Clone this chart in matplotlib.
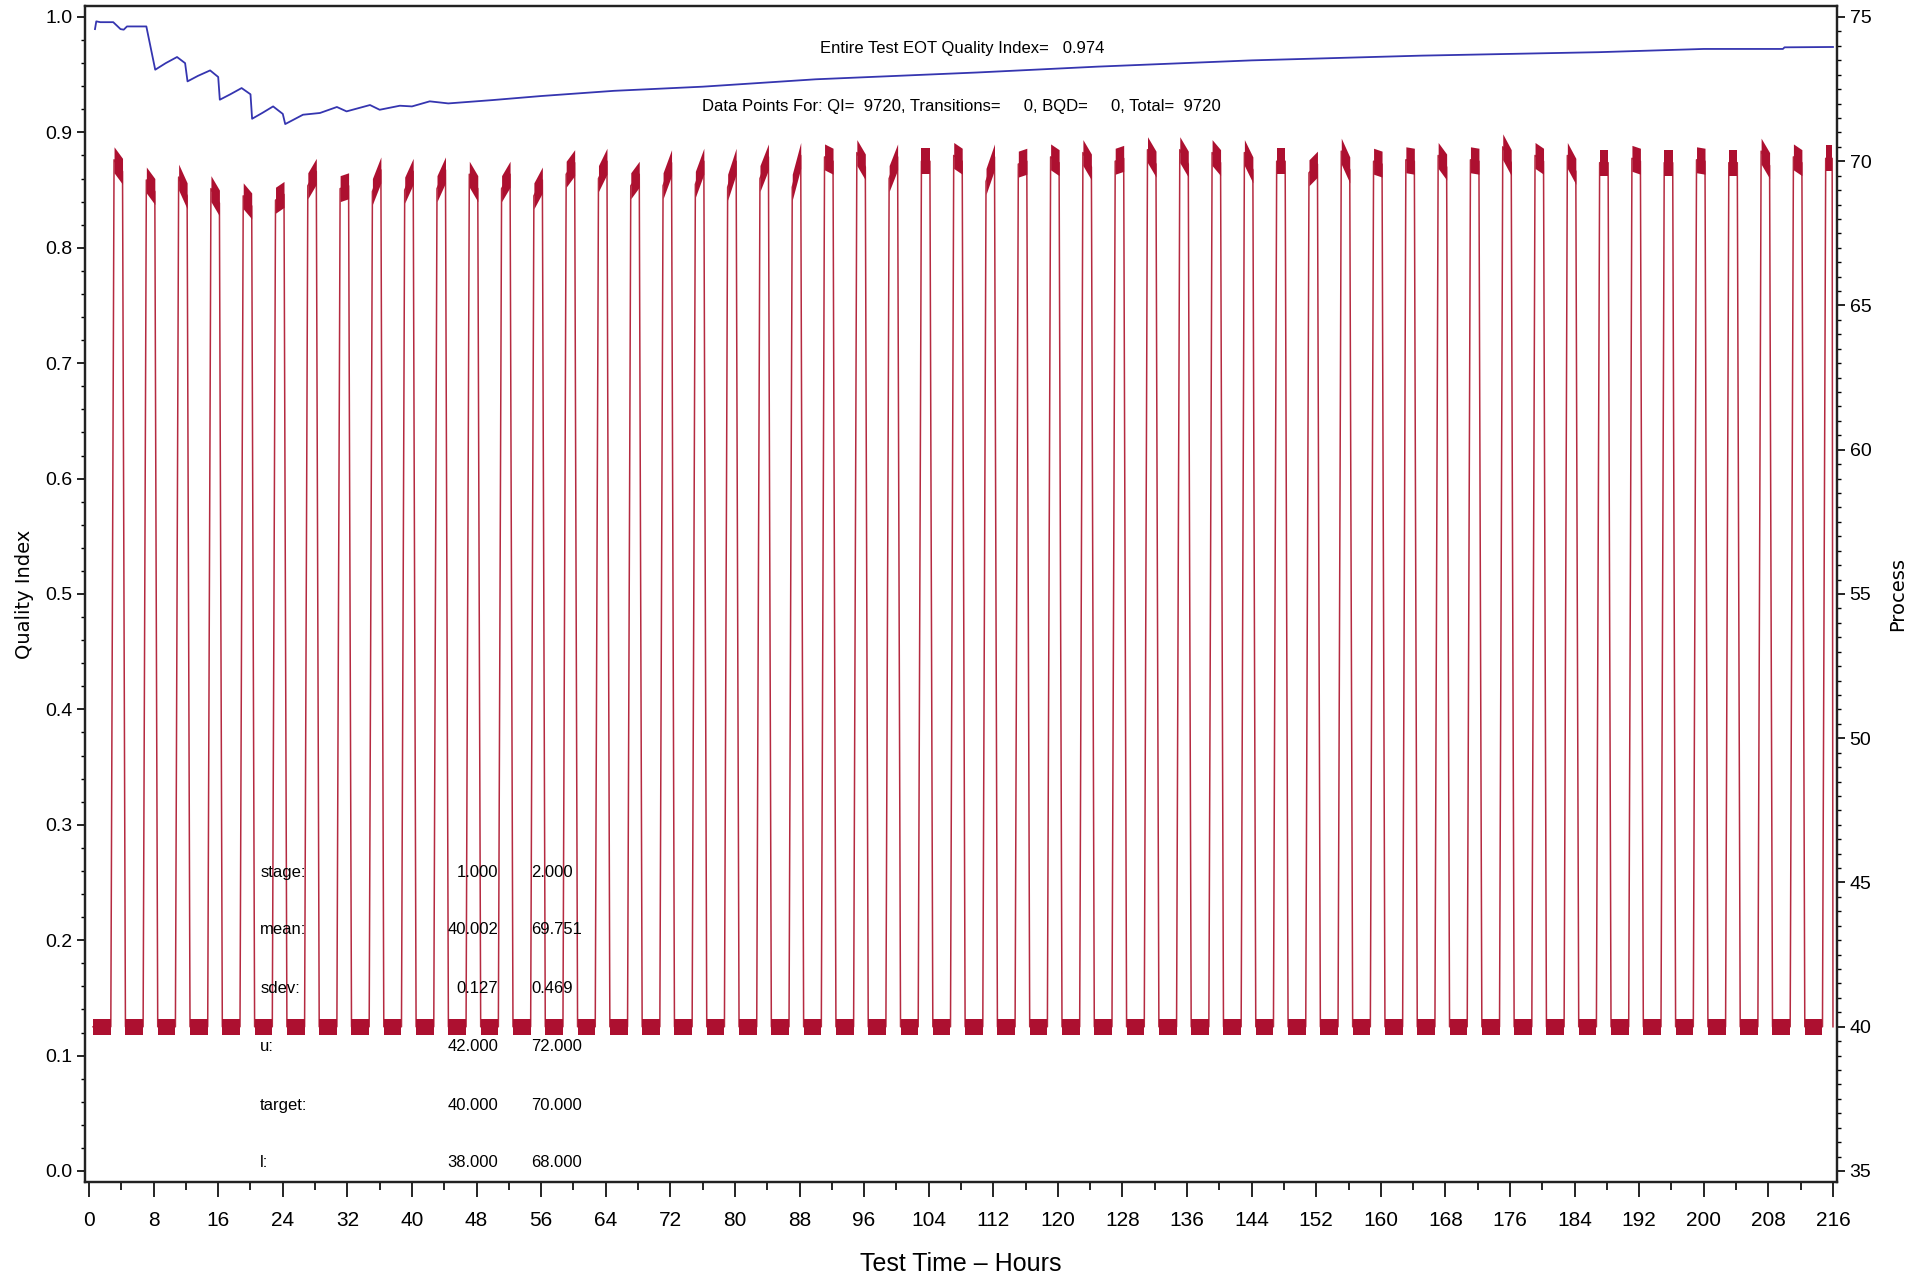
import matplotlib
matplotlib.use("Agg")
import matplotlib.pyplot as plt
from matplotlib.ticker import MultipleLocator

# ---- data ----
# hour at which each stage-2 (70) plateau starts, one per 4 h cycle
pulse_on = [3.1, 7.1, 11.1, 15.1, 19.1, 23.1, 27.1, 31.1, 35.1, 39.1, 43.1, 47.1,
            51.1, 55.1, 59.1, 63.1, 67.1, 71.1, 75.1, 79.1, 83.1, 87.1, 91.1, 95.1,
            99.1, 103.1, 107.1, 111.1, 115.1, 119.1, 123.1, 127.1, 131.1, 135.1,
            139.1, 143.1, 147.1, 151.1, 155.1, 159.1, 163.1, 167.1, 171.1, 175.1,
            179.1, 183.1, 187.1, 191.1, 195.1, 199.1, 203.1, 207.1, 211.1, 215.1]
# process level at start / end of each high plateau
high_start = [70.05, 69.35, 69.45, 69.05, 68.80, 68.65, 69.15, 69.05, 68.95, 69.00,
              69.05, 69.55, 69.05, 68.80, 69.55, 69.40, 69.15, 69.15, 69.20, 69.10,
              69.40, 69.10, 70.15, 70.30, 69.40, 70.00, 70.20, 69.30, 69.90, 70.15,
              70.30, 70.00, 70.40, 70.40, 70.30, 70.30, 70.00, 69.60, 70.35, 70.00,
              70.05, 70.20, 70.05, 70.50, 70.20, 70.20, 69.95, 70.10, 69.95, 70.05,
              69.95, 70.35, 70.15, 70.10]
high_end = [69.65, 68.95, 68.80, 68.55, 68.45, 68.85, 69.65, 69.15, 69.70, 69.65,
            69.70, 69.05, 69.55, 69.35, 69.95, 70.00, 69.55, 69.95, 70.00, 70.00,
            70.15, 70.20, 70.00, 69.80, 70.15, 70.00, 70.00, 70.15, 70.00, 69.95,
            69.80, 70.10, 69.90, 69.90, 69.95, 69.70, 70.00, 69.90, 69.70, 69.90,
            70.00, 69.80, 70.00, 69.95, 70.00, 69.65, 69.95, 70.00, 69.95, 70.00,
            69.95, 69.85, 69.95, 70.10]
low_level = 40.0
first_hour = 0.5
last_hour = 216.0
ramp_h = 0.4      # approx duration of an up/down transition
hold_h = 1.05     # approx duration of the high plateau
high_spread = 0.45  # visual half-height of the noisy high band
low_spread = 0.28   # visual half-height of the noisy low band

# running quality index (blue)
qi_hours = [0.74, 0.9, 1.4, 3.0, 3.9, 4.3, 4.7, 7.1, 8.2, 9.5, 10.9, 11.9, 12.2,
            13.5, 15.0, 16.0, 16.2, 17.5, 18.9, 20.0, 20.2, 21.5, 22.8, 24.0, 24.3,
            26.5, 28.6, 30.7, 31.9, 34.8, 36.0, 38.5, 40.0, 42.2, 44.5, 50.0, 56.0,
            65.0, 76.0, 90.0, 110.0, 125.0, 144.0, 165.0, 187.0, 200.0, 209.8,
            210.0, 216.0]
qi_values = [0.9895, 0.9962, 0.9955, 0.9955, 0.9895, 0.9890, 0.9918, 0.9918, 0.9543,
             0.9600, 0.9653, 0.9600, 0.9442, 0.9490, 0.9537, 0.9480, 0.9283, 0.9330,
             0.9384, 0.9330, 0.9118, 0.9170, 0.9225, 0.9160, 0.9072, 0.9153, 0.9168,
             0.9220, 0.9182, 0.9237, 0.9196, 0.9231, 0.9225, 0.9269, 0.9251, 0.9280,
             0.9315, 0.9360, 0.9396, 0.9460, 0.9519, 0.9570, 0.9624, 0.9665, 0.9695,
             0.9723, 0.9723, 0.9737, 0.9740]

stat_rows = ["stage:", "mean:", "sdev:", "u:", "target:", "l:"]
stat_col1 = ["1.000", "40.002", "0.127", "42.000", "40.000", "38.000"]
stat_col2 = ["2.000", "69.751", "0.469", "72.000", "70.000", "68.000"]

RED = "#ad1030"
LINE_RED = "#b52a40"
BLUE = "#3535b0"
NARROW = ["Liberation Sans", "DejaVu Sans"]

# build the stage trace from the plateau readings
t, v = [first_hour], [low_level]
plateaus, lows = [], []
low_from = first_hour
for on, a, b in zip(pulse_on, high_start, high_end):
    off = min(on + hold_h, last_hour - 0.1)
    down = min(off + ramp_h * 0.9, last_hour)
    lows.append((low_from, on - ramp_h))
    plateaus.append(((on, off), (a, b)))
    t += [on - ramp_h, on, off, down]
    v += [low_level, a, b, low_level]
    low_from = down

fig = plt.figure(figsize=(19.27, 12.8), dpi=100)
ax = fig.add_axes([0.0441, 0.0766, 0.9092, 0.9187])
ax2 = ax.twinx()

ax2.plot(t, v, color=LINE_RED, lw=1.1, zorder=2)
for (x0, x1), (a, b) in plateaus:
    ax2.fill_between([x0, x1], [a - high_spread, b - high_spread],
                     [a + high_spread, b + high_spread], color=RED, lw=0, zorder=3)
for x0, x1 in lows:
    ax2.fill_between([x0, x1], low_level - low_spread, low_level + low_spread,
                     color=RED, lw=0, zorder=3)
ax.plot(qi_hours, qi_values, color=BLUE, lw=1.3, zorder=4)
ax.set_zorder(ax2.get_zorder() + 1)
ax.patch.set_visible(False)

ax.set_xlim(-0.5, 216.5)
ax.set_ylim(-0.0095, 1.0095)
ax2.set_ylim(35 - 0.38, 75 + 0.38)

ax.xaxis.set_major_locator(MultipleLocator(8))
ax.xaxis.set_minor_locator(MultipleLocator(4))
ax.yaxis.set_minor_locator(MultipleLocator(0.02))
ax2.yaxis.set_major_locator(MultipleLocator(5))
ax2.yaxis.set_minor_locator(MultipleLocator(0.5))
ax.set_yticks([i / 10 for i in range(11)])
ax.set_yticklabels([f"{i / 10:.1f}" for i in range(11)])

for a_ in (ax, ax2):
    for sp in a_.spines.values():
        sp.set_linewidth(1.6)
        sp.set_color("#222222")
ax.tick_params(axis="x", which="major", length=11, width=1.2, pad=10, labelsize=15)
ax.tick_params(axis="x", which="minor", length=6, width=1.2)
ax.tick_params(axis="y", which="major", length=6, width=1.2, pad=3, labelsize=14)
ax.tick_params(axis="y", which="minor", length=3, width=1.0)
ax2.tick_params(axis="y", which="major", length=6, width=1.2, pad=3, labelsize=14)
ax2.tick_params(axis="y", which="minor", length=3, width=1.0)
for lab in ax.get_xticklabels() + ax.get_yticklabels() + ax2.get_yticklabels():
    lab.set_family(NARROW)

ax.set_ylabel("Quality Index", fontsize=14, labelpad=8, family="DejaVu Sans")
ax2.set_ylabel("Process", fontsize=14, labelpad=12, family="DejaVu Sans")
ax.set_xlabel("Test Time \u2013 Hours", fontsize=18, labelpad=16, family=NARROW)

ax.text(108.1, 0.9725, "Entire Test EOT Quality Index=   0.974", ha="center",
        va="center", fontsize=12, family=NARROW, zorder=5)
ax.text(108.1, 0.9220,
        "Data Points For: QI=  9720, Transitions=     0, BQD=     0, Total=  9720",
        ha="center", va="center", fontsize=12, family=NARROW, zorder=5)

row_y = [0.259, 0.209, 0.158, 0.108, 0.057, 0.007]
for y, name, c1, c2 in zip(row_y, stat_rows, stat_col1, stat_col2):
    ax.text(21.2, y, name, ha="left", va="center", fontsize=12, family=NARROW, zorder=5)
    ax.text(50.7, y, c1, ha="right", va="center", fontsize=12, family=NARROW, zorder=5)
    ax.text(54.8, y, c2, ha="left", va="center", fontsize=12, family=NARROW, zorder=5)

fig.savefig("out.png", dpi=100)
